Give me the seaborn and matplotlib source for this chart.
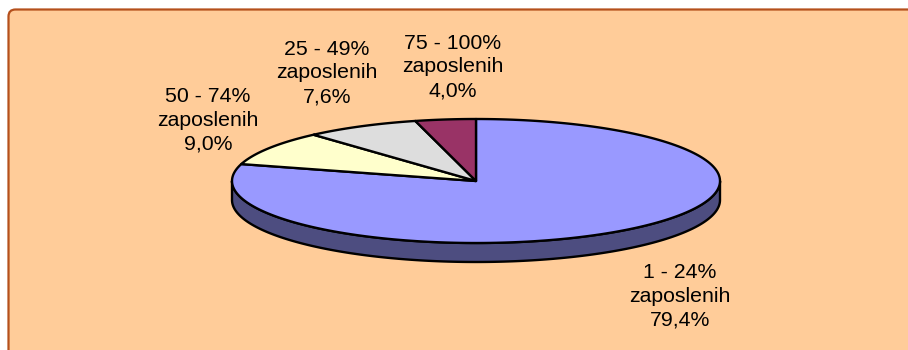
import numpy as np
import matplotlib
matplotlib.use("Agg")
import matplotlib.pyplot as plt
import seaborn as sns
from matplotlib.patches import Polygon, FancyBboxPatch

# Share of companies by proportion of employees (clockwise from 12 o'clock)
categories = ["1 - 24%\nzaposlenih", "50 - 74%\nzaposlenih",
              "25 - 49%\nzaposlenih", "75 - 100%\nzaposlenih"]
shares = [79.4, 9.0, 7.6, 4.0]
value_labels = ["79,4%", "9,0%", "7,6%", "4,0%"]

top_colors = ["#9999FF", "#FFFFCC", "#DDDDDD", "#993366"]
side_colors = ["#4D4D80", "#808066", "#6F6F6F", "#4D1A33"]

sns.set_theme(style="white")
plt.rcParams["font.family"] = ["Liberation Sans", "DejaVu Sans"]

fig = plt.figure(figsize=(9.08, 3.5), dpi=100)
fig.patch.set_facecolor("white")
ax = fig.add_axes([0, 0, 1, 1])
ax.set_xlim(0, 908)
ax.set_ylim(350, 0)
ax.axis("off")

# chart area background
panel = FancyBboxPatch((8.5, 9.5), 940, 380,
                       boxstyle="round,pad=0,rounding_size=7",
                       fc="#FFCC99", ec="#B5501C", lw=1.6, zorder=0)
ax.add_patch(panel)

# 3-D pie geometry (screen units, y grows downward)
cx, cy, rx, ry, depth = 476, 181, 244, 62, 19


def ellipse_pts(a_deg, b_deg, dy=0.0, n=200):
    t = np.radians(np.linspace(a_deg, b_deg, n))
    return np.column_stack([cx + rx * np.sin(t), cy - ry * np.cos(t) + dy])


fractions = np.array(shares) / np.sum(shares)
bounds = np.concatenate([[0], np.cumsum(fractions) * 360])

# visible front walls
for i in range(len(shares)):
    a, b = max(bounds[i], 90), min(bounds[i + 1], 270)
    if b <= a:
        continue
    top_arc = ellipse_pts(a, b)
    bot_arc = ellipse_pts(a, b, dy=depth)[::-1]
    ax.add_patch(Polygon(np.vstack([top_arc, bot_arc]), closed=True,
                         fc=side_colors[i], ec="black", lw=1.7,
                         joinstyle="round", zorder=2))

# top faces
for i in range(len(shares)):
    arc = ellipse_pts(bounds[i], bounds[i + 1])
    pts = np.vstack([[cx, cy], arc])
    ax.add_patch(Polygon(pts, closed=True, fc=top_colors[i], ec="black",
                         lw=1.7, joinstyle="round", zorder=3))

# data labels
label_pos = [(680, 296), (208, 120), (327, 73), (453, 67)]
for cat, val, (x, y) in zip(categories, value_labels, label_pos):
    ax.text(x, y, f"{cat}\n{val}", ha="center", va="center",
            fontsize=15.3, color="black", linespacing=1.32, zorder=5)

fig.savefig("out.png", dpi=100, facecolor=fig.get_facecolor())
